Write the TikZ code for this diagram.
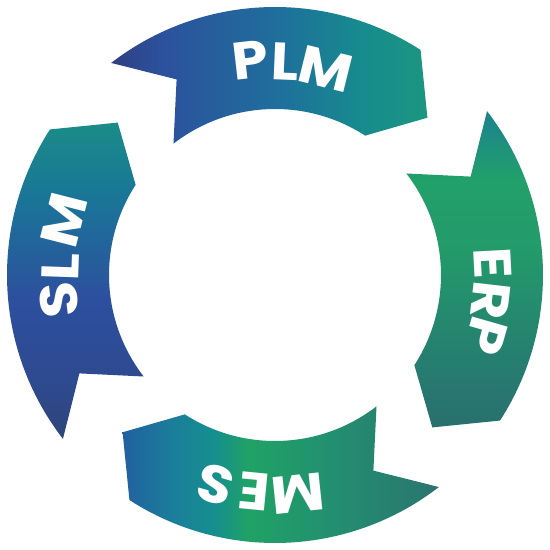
\documentclass[tikz,border=0pt]{standalone}
\usepackage{graphicx}
\usepackage{fontspec}
\newfontfamily\lblfont{Poppins}
% colours
\definecolor{plmA}{HTML}{2F3F82}
\definecolor{plmB}{HTML}{2C519D}
\definecolor{plmC}{HTML}{1F6E9C}
\definecolor{plmD}{HTML}{178A8E}
\definecolor{plmE}{HTML}{1B9680}
\definecolor{erpA}{HTML}{2A6F6E}
\definecolor{erpB}{HTML}{258070}
\definecolor{erpC}{HTML}{239A6A}
\definecolor{erpD}{HTML}{22A06A}
\definecolor{erpE}{HTML}{1A828E}
\definecolor{mesA}{HTML}{2260A0}
\definecolor{mesB}{HTML}{1A7E9A}
\definecolor{mesC}{HTML}{158F8E}
\definecolor{mesD}{HTML}{20A266}
\definecolor{mesE}{HTML}{229070}
\definecolor{mesF}{HTML}{2B746F}
\definecolor{slmA}{HTML}{2E4578}
\definecolor{slmB}{HTML}{2E4A90}
\definecolor{slmC}{HTML}{2D4F9E}
\definecolor{slmD}{HTML}{1A7598}
\definecolor{slmE}{HTML}{1A8C88}
\pgfdeclarehorizontalshading{plmshade}{100bp}{color(0bp)=(plmA); color(25bp)=(plmA); color(33bp)=(plmB); color(51bp)=(plmC); color(64bp)=(plmD); color(75bp)=(plmE); color(100bp)=(plmE)}
\pgfdeclareverticalshading{erpshade}{100bp}{color(0bp)=(erpA); color(25bp)=(erpA); color(37bp)=(erpB); color(53bp)=(erpC); color(64bp)=(erpD); color(75bp)=(erpE); color(100bp)=(erpE)}
\pgfdeclarehorizontalshading{messhade}{100bp}{color(0bp)=(mesA); color(25bp)=(mesA); color(33bp)=(mesB); color(39.5bp)=(mesC); color(45bp)=(mesD); color(57.5bp)=(mesE); color(75bp)=(mesF); color(100bp)=(mesF)}
\pgfdeclareverticalshading{slmshade}{100bp}{color(0bp)=(slmA); color(25bp)=(slmA); color(34bp)=(slmB); color(47bp)=(slmC); color(63bp)=(slmD); color(75bp)=(slmE); color(100bp)=(slmE)}
% one ring segment, rotated by #1 degrees
\newcommand{\segpath}[1]{({127.7+(#1)}:268) arc[start angle={127.7+(#1)}, end angle={57.1+(#1)}, radius=268] -- ({45.9+(#1)}:219) -- ({57.1+(#1)}:166) arc[start angle={57.1+(#1)}, end angle={127.7+(#1)}, radius=166] -- ({116.7+(#1)}:219) -- cycle}
\newcommand{\wide}[1]{\scalebox{1.1}[1]{#1}}
\begin{document}
\begin{tikzpicture}[x=0.02cm, y=0.02cm,
  lbl/.style={text=white, inner sep=0pt, font=\lblfont\bfseries\fontsize{30}{30}\selectfont}]
\useasboundingbox (-275,-275) rectangle (275,275);
% segments
\shade[shading=plmshade] \segpath{0};
\shade[shading=erpshade] \segpath{-90};
\shade[shading=messhade] \segpath{-180};
\shade[shading=slmshade] \segpath{-270};
% labels
\node[lbl, rotate=6.6]   (plm1) at (96.6:216) {\wide{P}};
\node[lbl, rotate=-2.5]  (plm2) at (87.3:214) {\wide{L}};
\node[lbl, rotate=-14]   (plm3) at (76:212) {\wide{M}};
\node[lbl, rotate=-87]   (erp1) at (3:218) {\wide{E}};
\node[lbl, rotate=-96.6] (erp2) at (-6.6:217) {\wide{R}};
\node[lbl, rotate=-106]  (erp3) at (-16:220) {\wide{P}};
\node[lbl, rotate=-174]  (mes1) at (-84:220) {\wide{M}};
\node[lbl, rotate=-185.5] (mes2) at (-95.5:217) {\wide{E}};
\node[lbl, rotate=-196]  (mes3) at (-106:218) {\wide{S}};
\node[lbl, rotate=96.6]  (slm1) at (186.6:217) {\wide{S}};
\node[lbl, rotate=88]    (slm2) at (178:215) {\wide{L}};
\node[lbl, rotate=75.7]  (slm3) at (165.5:218) {\wide{M}};
\end{tikzpicture}
\end{document}
